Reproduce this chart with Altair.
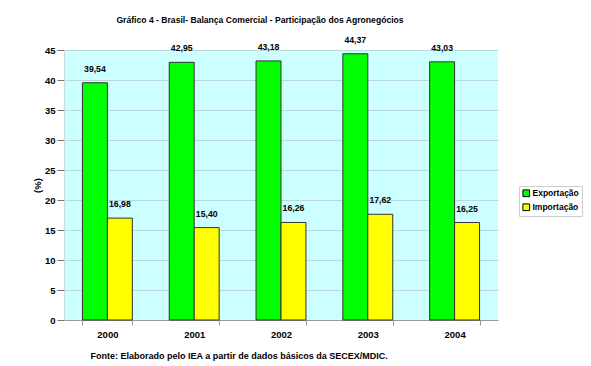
import altair as alt
import pandas as pd

years = ["2000", "2001", "2002", "2003", "2004"]
exportacao = [39.54, 42.95, 43.18, 44.37, 43.03]
importacao = [16.98, 15.40, 16.26, 17.62, 16.25]
series = ["Exportação", "Importação"]
colors = ["#00FF00", "#FFFF00"]
y_ticks = [0, 5, 10, 15, 20, 25, 30, 35, 40, 45]

rows = []
for i, yr in enumerate(years):
    rows.append({"ano": yr, "serie": series[0], "v": exportacao[i]})
    rows.append({"ano": yr, "serie": series[1], "v": importacao[i]})
df = pd.DataFrame(rows)

FONT = "Liberation Sans"

x_enc = alt.X("ano:N", sort=years,
              scale=alt.Scale(paddingInner=0.425, paddingOuter=0.2125),
              axis=alt.Axis(title="Fonte: Elaborado pelo IEA a partir de dados básicos da SECEX/MDIC.",
                            titleAnchor="start", titleAlign="left", titleX=26, titleY=38,
                            titleBaseline="alphabetic",
                            titleFont=FONT, titleFontSize=9, titleFontWeight="bold", titleColor="black",
                            labelAngle=0, labelFont=FONT, labelFontSize=9.5, labelFontWeight="bold",
                            labelColor="black", labelPadding=4,
                            tickBand="extent", tickSize=5, tickColor="#999999",
                            domainColor="#999999", grid=False))
y_enc = alt.Y("v:Q",
              scale=alt.Scale(domain=[0, 45], nice=False),
              axis=alt.Axis(values=y_ticks, labelOverlap=False, title="(%)", titleAngle=-90,
                            titleX=-27, titleY=135,
                            titleAlign="center", titleBaseline="middle",
                            titleFont=FONT, titleFontSize=9.5, titleFontWeight="bold", titleColor="black",
                            labelFont=FONT, labelFontSize=9.5, labelFontWeight="bold", labelColor="black",
                            labelPadding=2, tickSize=7, tickColor="#777777",
                            domainColor="#c8dcdc", gridColor="#b8d8dc"))
xoff = alt.XOffset("serie:N", sort=series, scale=alt.Scale(paddingInner=0, paddingOuter=0))

base = alt.Chart(df).encode(x=x_enc, y=y_enc, xOffset=xoff)

bars = base.mark_bar(stroke="#333333", strokeWidth=1).encode(
    color=alt.Color("serie:N", sort=series, scale=alt.Scale(domain=series, range=colors),
                    legend=alt.Legend(title=None, orient="none", legendX=455, legendY=136,
                                      symbolType="square", symbolSize=45,
                                      symbolStrokeColor="black", symbolStrokeWidth=1,
                                      labelFont=FONT, labelFontSize=8.5, labelFontWeight="bold",
                                      labelColor="black", strokeColor="#cccccc",
                                      padding=3, rowPadding=2, labelOffset=2, fillColor="white"))
)

labels = base.transform_calculate(
    lbl="replace(format(datum.v, '.2f'), '.', ',')"
).mark_text(font=FONT, fontSize=8.7, fontWeight="bold", color="black", dy=-9, baseline="bottom").encode(
    text="lbl:N"
)

chart = alt.layer(bars, labels).properties(
    width=434, height=270,
    title=alt.TitleParams("Gráfico 4 - Brasil- Balança Comercial - Participação dos Agronegócios",
                          font=FONT, fontSize=8.6, fontWeight="bold", color="black",
                          anchor="middle", frame="group", dx=-21, offset=11),
    autosize=alt.AutoSizeParams(type="none"),
    padding={"left": 56, "top": 42, "right": 85, "bottom": 50},
    background="white",
).configure_view(fill="#CCFFFF", stroke=None)

chart.save("out.html", embed_options={"renderer": "svg", "actions": False})
